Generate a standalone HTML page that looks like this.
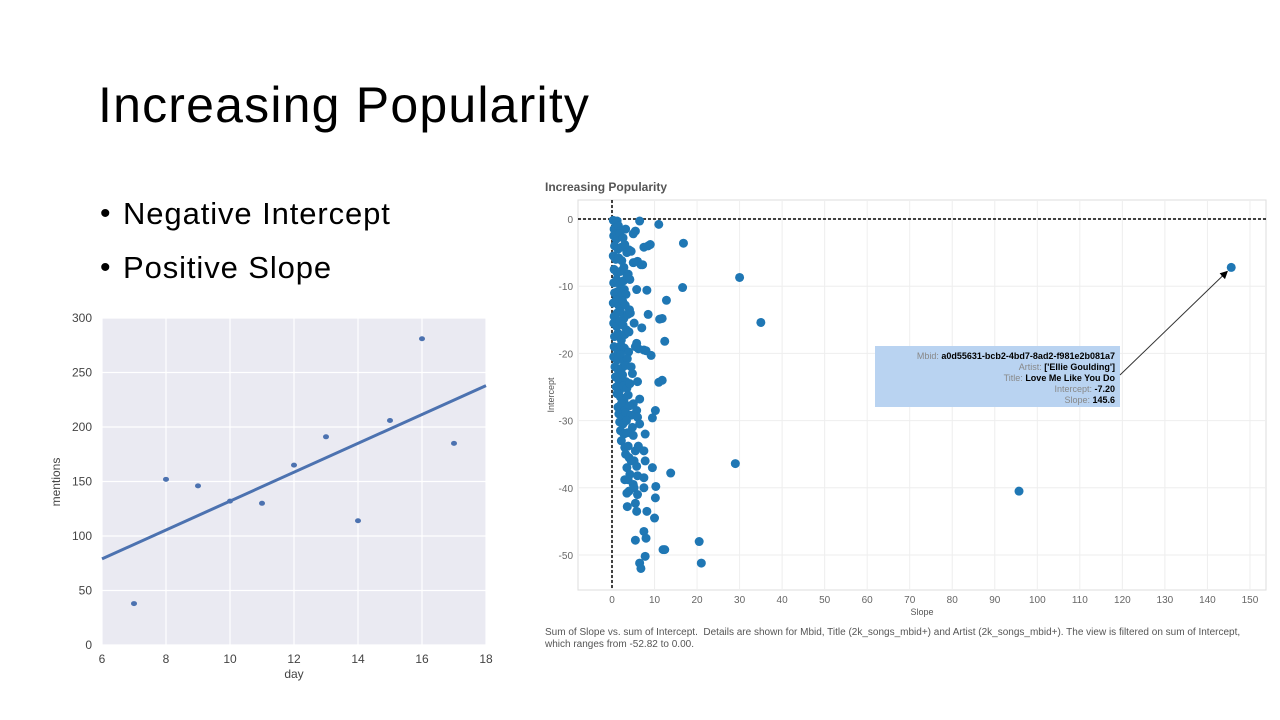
<!DOCTYPE html>
<html><head><meta charset="utf-8"><style>
body{margin:0;width:1280px;height:720px;background:#fff;overflow:hidden;font-family:"Liberation Sans",sans-serif;}
.title{position:absolute;left:98px;top:76px;font-size:50px;color:#000;font-family:"Liberation Sans",sans-serif;letter-spacing:1.2px;font-weight:normal}
.b{position:absolute;left:123px;font-size:31px;color:#000;letter-spacing:0.9px}
.dot{position:absolute;left:100px;font-size:30px;color:#000}
svg{position:absolute;left:0;top:0}
.cap{position:absolute;left:545px;top:627px;font-size:10px;color:#555;width:720px;line-height:12px}
</style></head><body>
<div class="title">Increasing Popularity</div>
<div class="dot" style="top:197px">•</div>
<div class="b" style="top:196px">Negative Intercept</div>
<div class="dot" style="top:251px">•</div>
<div class="b" style="top:250px">Positive Slope</div>
<svg id="left" width="1280" height="720"></svg>
<svg id="right" width="1280" height="720"></svg>
<div class="cap">Sum of Slope vs. sum of Intercept.&nbsp; Details are shown for Mbid, Title (2k_songs_mbid+) and Artist (2k_songs_mbid+). The view is filtered on sum of Intercept, which ranges from -52.82 to 0.00.</div>
<script>
const days=[7,8,9,10,11,12,13,14,15,16,17];
const mentions=[38,152,146,132,130,165,191,114,206,281,185];
const fitStart=[6,79], fitEnd=[18,238];
const leftXTicks=[6,8,10,12,14,16,18];
const leftYTicks=[0,50,100,150,200,250,300];

const slopes=[0.3,0.8,1.2,0.5,1.5,2.0,6.5,11,0.4,1.0,1.8,2.6,3.2,5.5,5.0,0.6,1.4,2.2,3.0,4.0,7.5,8.5,9.0,16.8,0.3,0.9,1.6,2.3,3.5,4.5,6.0,6.8,0.5,1.2,2.0,2.8,3.8,5.0,7.2,0.4,1.1,1.9,2.7,3.6,4.2,0.6,1.3,2.1,2.9,3.3,5.8,8.2,16.6,0.3,1.0,1.7,2.5,3.1,4.1,12.8,0.5,1.2,2.0,2.8,3.7,4.3,0.4,1.1,1.8,2.6,3.4,5.2,8.5,11.2,11.8,0.6,1.4,2.2,3.0,4.0,5.8,7.0,0.5,1.3,2.1,2.9,3.9,6.2,7.5,12.4,0.4,1.2,2.0,2.8,3.6,5.5,8.0,9.2,0.7,1.5,2.3,3.2,4.5,0.8,1.6,2.5,3.3,4.8,1.0,1.8,2.6,3.5,4.2,6.0,11.0,11.8,1.2,2.0,2.8,3.8,5.0,6.5,1.4,2.2,3.0,4.1,5.8,1.6,2.4,3.2,4.5,6.0,1.8,2.6,3.4,4.8,6.5,9.5,10.2,2.0,2.8,3.6,5.0,7.8,2.2,3.0,3.8,5.5,6.2,3.2,4.0,5.2,7.5,4.5,5.8,7.8,3.5,4.2,6.0,7.5,9.5,13.8,3.8,5.0,7.5,10.3,3.0,4.0,5.2,6.0,10.2,3.5,5.5,8.2,5.8,3.6,10.0,7.5,8.0,5.5,12.0,12.4,20.5,6.5,7.8,6.8,21.0,30.0,35.0,29.0,95.7,145.6];
const intercepts=[-0.2,-0.5,-0.3,-1.5,-1.0,-1.8,-0.3,-0.8,-2.5,-3.0,-2.2,-2.8,-1.5,-1.8,-2.2,-4.0,-4.5,-4.2,-3.8,-4.6,-4.2,-4.0,-3.8,-3.6,-5.5,-6.0,-5.8,-6.2,-5.0,-4.8,-6.3,-6.8,-7.5,-8.0,-7.8,-7.2,-8.2,-6.5,-6.8,-9.5,-9.0,-9.8,-9.2,-8.5,-9.0,-11.0,-10.8,-11.5,-10.5,-11.2,-10.5,-10.6,-10.2,-12.5,-12.0,-13.0,-12.2,-12.8,-13.5,-12.1,-14.5,-14.0,-13.8,-14.8,-14.2,-14.0,-15.5,-16.0,-15.2,-15.8,-16.5,-15.5,-14.2,-14.9,-14.8,-17.5,-17.0,-18.0,-17.2,-16.8,-18.5,-16.2,-19.0,-19.5,-18.8,-19.2,-19.8,-19.3,-19.5,-18.2,-20.5,-21.0,-20.2,-21.2,-20.8,-19.0,-19.6,-20.3,-22.0,-22.5,-22.2,-21.8,-22.0,-23.5,-24.0,-23.2,-24.2,-23.0,-25.0,-25.5,-24.8,-25.2,-24.5,-24.2,-24.3,-24.0,-26.0,-26.5,-27.0,-26.2,-27.5,-26.8,-28.0,-27.5,-28.5,-27.8,-28.5,-29.0,-29.5,-28.8,-29.2,-29.5,-30.2,-30.5,-30.0,-31.0,-30.5,-29.6,-28.5,-31.5,-32.0,-31.8,-32.2,-32.0,-33.0,-34.0,-33.8,-34.5,-33.8,-35.0,-35.5,-36.0,-34.5,-36.0,-36.8,-36.0,-37.0,-38.0,-38.2,-38.5,-37.0,-37.8,-38.8,-39.5,-40.0,-39.8,-38.8,-40.5,-40.0,-41.0,-41.5,-40.8,-42.3,-43.5,-43.5,-42.8,-44.5,-46.5,-47.5,-47.8,-49.2,-49.2,-48.0,-51.2,-50.2,-52.0,-51.2,-8.7,-15.4,-36.4,-40.5,-7.2];
const rightXTicks=[0,10,20,30,40,50,60,70,80,90,100,110,120,130,140,150];
const rightYTicks=[0,-10,-20,-30,-40,-50];

const NS='http://www.w3.org/2000/svg';
function mk(svg,tag,a,txt){const e=document.createElementNS(NS,tag);for(const k in a)e.setAttribute(k,a[k]);if(txt!==undefined)e.textContent=txt;svg.appendChild(e);return e;}

const L=document.getElementById('left');
const lx=v=>102+(v-6)*32, ly=v=>645-v*1.09;
let e=mk(L,'rect',{x:102,y:318,width:384,height:327,fill:'#eaeaf2'});

leftXTicks.forEach(t=>{
 e=mk(L,'line',{x1:lx(t),x2:lx(t),y1:318,y2:645,stroke:'#fff','stroke-width':1.2});
 
 e=mk(L,'text',{x:lx(t),y:663,'text-anchor':'middle','font-size':12,fill:'#444'},t);
 
});
leftYTicks.forEach(t=>{
 e=mk(L,'line',{x1:102,x2:486,y1:ly(t),y2:ly(t),stroke:'#fff','stroke-width':1.2});
 
 e=mk(L,'text',{x:92,y:ly(t)+4,'text-anchor':'end','font-size':12,fill:'#444'},t);
 
});
e=mk(L,'text',{x:294,y:678,'text-anchor':'middle','font-size':12,fill:'#444'},'day');

e=mk(L,'text',{x:60,y:482,'text-anchor':'middle','font-size':12,fill:'#444',transform:'rotate(-90 60 482)'},'mentions');

e=mk(L,'line',{x1:lx(fitStart[0]),y1:ly(fitStart[1]),x2:lx(fitEnd[0]),y2:ly(fitEnd[1]),stroke:'#4c72b0','stroke-width':3});

days.forEach((d,i)=>{
 e=mk(L,'ellipse',{cx:lx(d),cy:ly(mentions[i]),rx:3,ry:2.5,fill:'#4c72b0'});
 
});

const R=document.getElementById('right');
const rx=v=>612+v*4.253, ry=v=>219-v*6.72;
e=mk(R,'text',{x:545,y:191,'font-size':12,'font-weight':'bold',fill:'#555'},'Increasing Popularity');

e=mk(R,'rect',{x:578,y:200,width:688,height:390,fill:'none',stroke:'#ddd'});

rightXTicks.forEach(t=>{
 e=mk(R,'line',{x1:rx(t),x2:rx(t),y1:200,y2:590,stroke:'#eee'});
 
 e=mk(R,'text',{x:rx(t),y:603,'text-anchor':'middle','font-size':10,fill:'#666'},t);
 
});
rightYTicks.forEach(t=>{
 e=mk(R,'line',{x1:578,x2:1266,y1:ry(t),y2:ry(t),stroke:'#eee'});
 
 e=mk(R,'text',{x:573,y:ry(t)+4,'text-anchor':'end','font-size':10,fill:'#666'},t);
 
});
e=mk(R,'text',{x:922,y:615,'text-anchor':'middle','font-size':9,fill:'#555'},'Slope');

e=mk(R,'text',{x:554,y:395,'text-anchor':'middle','font-size':9,fill:'#555',transform:'rotate(-90 554 395)'},'Intercept');

e=mk(R,'line',{x1:rx(0),x2:rx(0),y1:200,y2:590,stroke:'#000','stroke-width':1.5,'stroke-dasharray':'3,2'});

e=mk(R,'line',{x1:578,x2:1266,y1:ry(0),y2:ry(0),stroke:'#000','stroke-width':1.5,'stroke-dasharray':'3,2'});

slopes.forEach((s,i)=>{
 e=mk(R,'circle',{cx:rx(s),cy:ry(intercepts[i]),r:4.5,fill:'#1f77b4'});
 
});
e=mk(R,'rect',{x:875,y:346,width:245,height:61,fill:'#b9d3f1'});

const tips=[['Mbid: ','a0d55631-bcb2-4bd7-8ad2-f981e2b081a7'],['Artist: ','[\'Ellie Goulding\']'],['Title: ','Love Me Like You Do'],['Intercept: ','-7.20'],['Slope: ','145.6']];
tips.forEach((t,i)=>{
 const tx=mk(R,'text',{x:1115,y:359+i*11,'text-anchor':'end','font-size':9});
 
 
 const a=document.createElementNS(NS,'tspan');a.setAttribute('fill','#888');a.textContent=t[0];tx.appendChild(a);
 const b=document.createElementNS(NS,'tspan');b.setAttribute('fill','#000');b.setAttribute('font-weight','bold');b.textContent=t[1];tx.appendChild(b);
});
const defs=mk(R,'defs',{});
const m=document.createElementNS(NS,'marker');m.setAttribute('id','ah');m.setAttribute('markerWidth','8');m.setAttribute('markerHeight','8');m.setAttribute('refX','7');m.setAttribute('refY','4');m.setAttribute('orient','auto');defs.appendChild(m);
mk(m,'path',{d:'M0,0 L8,4 L0,8 Z',fill:'#000'});
e=mk(R,'line',{x1:1120,y1:375,x2:rx(145.6)-4,y2:ry(-7.2)+4,stroke:'#333','stroke-width':1,'marker-end':'url(#ah)'});

</script>
</body></html>
